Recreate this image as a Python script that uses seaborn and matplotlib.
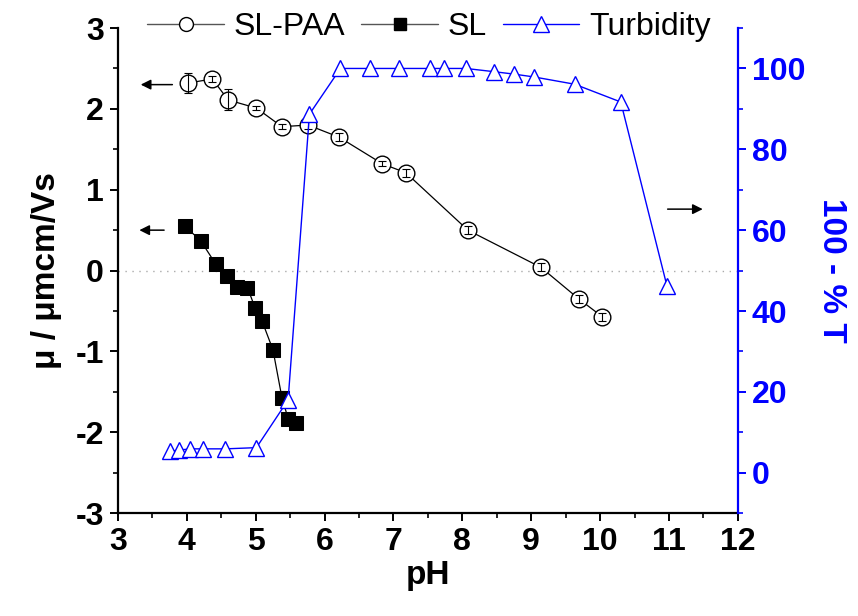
import matplotlib
matplotlib.use("Agg")
import matplotlib.pyplot as plt
from matplotlib.lines import Line2D
from matplotlib.ticker import MultipleLocator
import seaborn as sns
import pandas as pd

# ---- data ----
slpaa_ph = [4.02, 4.37, 4.60, 5.01, 5.38, 5.76, 6.21, 6.84, 7.18, 8.08, 9.14, 9.69, 10.03]
slpaa_mu = [2.32, 2.37, 2.11, 2.01, 1.78, 1.80, 1.65, 1.32, 1.21, 0.50, 0.04, -0.35, -0.57]
slpaa_err = [0.12, 0.04, 0.13, 0.03, 0.03, 0.05, 0.05, 0.03, 0.05, 0.05, 0.05, 0.05, 0.05]

sl_ph = [3.97, 4.20, 4.42, 4.59, 4.73, 4.88, 4.99, 5.09, 5.25, 5.38, 5.47, 5.58]
sl_mu = [0.55, 0.37, 0.08, -0.07, -0.20, -0.21, -0.46, -0.62, -0.98, -1.57, -1.83, -1.88]
sl_err = [0.02, 0.02, 0.02, 0.02, 0.02, 0.02, 0.02, 0.02, 0.02, 0.08, 0.03, 0.03]

turb_ph = [3.76, 3.89, 4.05, 4.23, 4.56, 5.01, 5.47, 5.78, 6.23, 6.66, 7.08, 7.53, 7.74,
           8.05, 8.46, 8.75, 9.04, 9.63, 10.30, 10.97]
turb_val = [5.3, 5.6, 5.9, 5.9, 5.9, 6.2, 18.0, 88.7, 100.0, 100.0, 100.0, 100.0, 100.0,
            100.0, 99.2, 98.6, 97.9, 96.1, 91.7, 46.2]

x_ticks = [3, 4, 5, 6, 7, 8, 9, 10, 11, 12]
left_ticks = [-3, -2, -1, 0, 1, 2, 3]
right_ticks = [0, 20, 40, 60, 80, 100]

BLUE = "#0000FF"

sns.set_theme(style="ticks")
plt.rcParams["font.family"] = ["Liberation Sans", "DejaVu Sans"]
plt.rcParams["axes.linewidth"] = 1.6
plt.rcParams["axes.unicode_minus"] = False
plt.rcParams["text.color"] = "black"
plt.rcParams["axes.labelcolor"] = "black"
plt.rcParams["xtick.color"] = "black"
plt.rcParams["ytick.color"] = "black"
plt.rcParams["axes.edgecolor"] = "black"

fig = plt.figure(figsize=(8.58, 6.16), dpi=100)
ax = fig.add_axes([0.1375, 0.167, 0.7225, 0.7875])
ax2 = ax.twinx()

df_a = pd.DataFrame({"pH": slpaa_ph, "mu": slpaa_mu})
df_b = pd.DataFrame({"pH": sl_ph, "mu": sl_mu})
df_t = pd.DataFrame({"pH": turb_ph, "T": turb_val})

# zero line
ax.axhline(0, color="#AAAAAA", lw=1.0, ls=(0, (1, 4)), zorder=0)

sns.lineplot(data=df_a, x="pH", y="mu", ax=ax, color="black", lw=0.9, marker="o",
             markersize=12, markerfacecolor="white", markeredgecolor="black",
             markeredgewidth=1.0, zorder=3)
ax.errorbar(slpaa_ph, slpaa_mu, yerr=slpaa_err, fmt="none", ecolor="black",
            elinewidth=0.8, capsize=3, capthick=0.8, zorder=4)
sns.lineplot(data=df_b, x="pH", y="mu", ax=ax, color="black", lw=0.9, marker="s",
             markersize=10, markerfacecolor="black", markeredgecolor="black", zorder=3)
ax.errorbar(sl_ph, sl_mu, yerr=sl_err, fmt="none", ecolor="black",
            elinewidth=0.8, capsize=3, capthick=0.8, zorder=2)

sns.lineplot(data=df_t, x="pH", y="T", ax=ax2, color=BLUE, lw=1.0, marker="^",
             markersize=12, markerfacecolor="white", markeredgecolor=BLUE,
             markeredgewidth=1.0, zorder=3)

# axes ranges / ticks
ax.set_xlim(3, 12)
ax.set_ylim(-3, 3)
ax2.set_ylim(-10, 110)
ax.set_xticks(x_ticks)
ax.set_yticks(left_ticks)
ax2.set_yticks(right_ticks)
ax.xaxis.set_minor_locator(MultipleLocator(0.5))
ax.yaxis.set_minor_locator(MultipleLocator(0.5))
ax2.yaxis.set_minor_locator(MultipleLocator(10))

for a in (ax, ax2):
    a.spines["top"].set_visible(False)
ax.spines["right"].set_visible(False)
ax2.spines["left"].set_visible(False)
ax2.spines["bottom"].set_visible(False)
ax2.spines["right"].set_color(BLUE)
ax2.spines["right"].set_linewidth(1.6)

ax.tick_params(axis="both", which="major", direction="out", length=6, width=1.4,
               labelsize=23, colors="black", pad=4)
ax.tick_params(axis="both", which="minor", direction="out", length=3.5, width=1.2,
               colors="black")
ax2.tick_params(axis="y", which="major", direction="out", length=6, width=1.4,
                labelsize=23, colors=BLUE, pad=4)
ax2.tick_params(axis="y", which="minor", direction="out", length=3.5, width=1.2, colors=BLUE)

for lab in ax.get_xticklabels() + ax.get_yticklabels():
    lab.set_fontweight("bold")
for lab in ax2.get_yticklabels():
    lab.set_fontweight("bold")

ax.set_xlabel("pH", fontsize=24, fontweight="bold", labelpad=2, color="black")
ax.set_ylabel("μ / μmcm/Vs", fontsize=24, fontweight="bold", labelpad=10, color="black")
ax2.set_ylabel("100 - % T", fontsize=24, fontweight="bold", color=BLUE,
               rotation=270, labelpad=30)

# arrows
arrow_kw = dict(arrowstyle="-|>", color="black", lw=1.1, mutation_scale=15)
ax.annotate("", xy=(3.29, 2.30), xytext=(3.83, 2.30), arrowprops=arrow_kw)
ax.annotate("", xy=(3.27, 0.50), xytext=(3.71, 0.50), arrowprops=arrow_kw)
ax2.annotate("", xy=(11.53, 65.2), xytext=(10.94, 65.2), arrowprops=arrow_kw)

# legend
for a in (ax, ax2):
    if a.get_legend() is not None:
        a.get_legend().remove()
handles = [
    Line2D([], [], color="#555555", lw=1.0, marker="o", markersize=10,
           markerfacecolor="white", markeredgecolor="black"),
    Line2D([], [], color="#555555", lw=1.0, marker="s", markersize=9,
           markerfacecolor="black", markeredgecolor="black"),
    Line2D([], [], color=BLUE, lw=1.0, marker="^", markersize=11,
           markerfacecolor="white", markeredgecolor=BLUE),
]
fig.legend(handles, ["SL-PAA", "SL", "Turbidity"], loc="center",
           bbox_to_anchor=(0.5, 0.956), ncol=3, frameon=False, fontsize=23,
           handlelength=2.4, handletextpad=0.3, columnspacing=0.5)

fig.savefig("out.png", dpi=100)
